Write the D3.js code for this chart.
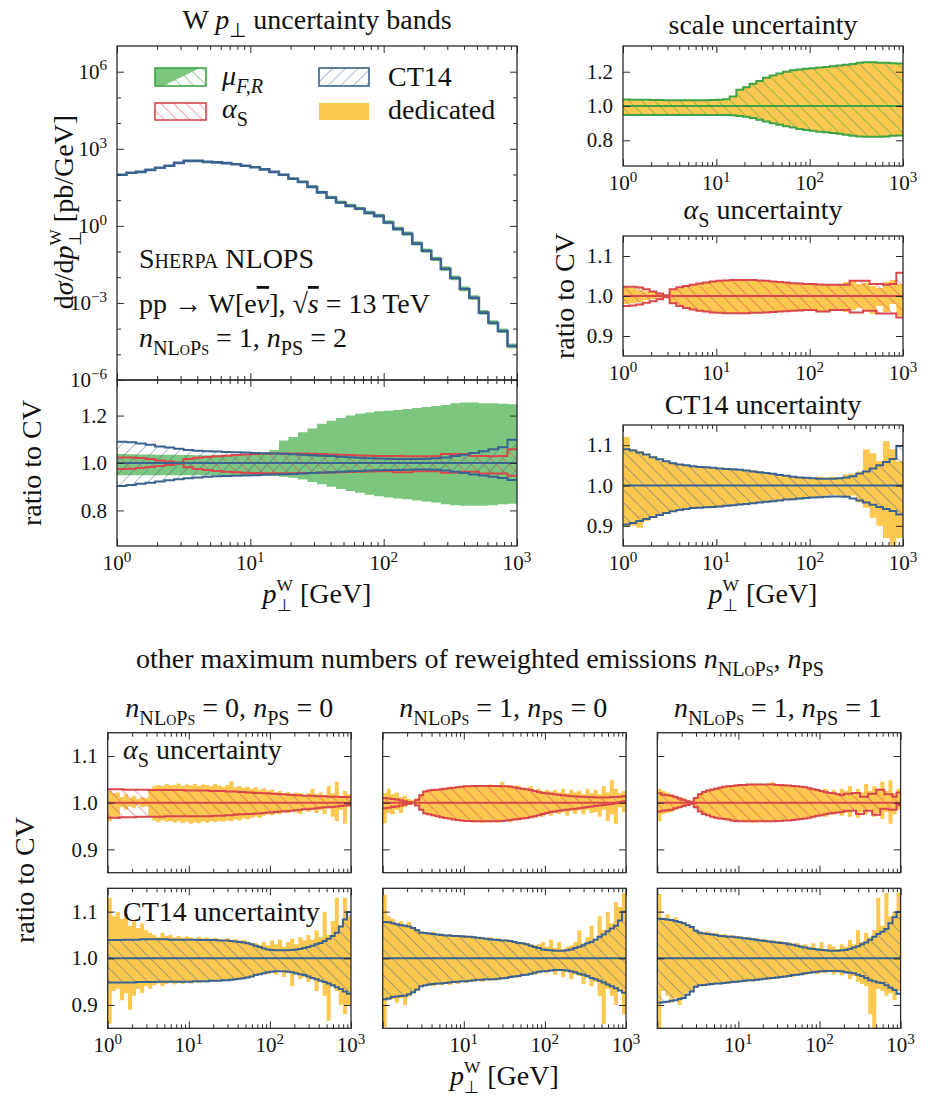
<!DOCTYPE html>
<html>
<head>
<meta charset="utf-8">
<script src="https://cdnjs.cloudflare.com/ajax/libs/d3/7.8.5/d3.min.js"></script>
<style>
html,body{margin:0;padding:0;background:#fff;}
svg text{fill:#111;white-space:pre;}
</style>
</head>
<body>
<script>
// ================= DATA =================
// x binning (log-uniform histogram bins in p_T^W [GeV])
const topBinEdges = d3.range(43).map(i => Math.pow(10, i / 14));
const lowBinEdges = d3.range(61).map(i => Math.pow(10, i / 20));

// central value dsigma/dpT [pb/GeV]
const cvXsec = [98,117,126,151,182,219,282,339,339,309,
  295,275,251,219,191,158,126,98,68,51,
  33,20,12.6,8.1,6.0,4.6,3.2,2.45,1.35,0.76,
  0.49,0.204,0.107,0.051,0.0214,0.0093,0.0035,0.0016,4.2e-4,1.7e-4,
  8.1e-5,2.1e-5];

// ratio-to-CV bands, n_NLoPs=1, n_PS=2
const scaleUp = [1.038,1.037,1.036,1.036,1.035,1.035,1.034,1.034,1.033,1.033,
  1.033,1.034,1.034,1.035,1.037,1.040,1.055,1.095,1.110,1.130,
  1.146,1.165,1.178,1.190,1.200,1.208,1.213,1.218,1.220,1.224,
  1.228,1.232,1.236,1.240,1.245,1.252,1.255,1.255,1.252,1.252,
  1.250,1.248];
const scaleDown = [0.948,0.948,0.948,0.948,0.948,0.948,0.948,0.948,0.948,0.948,
  0.948,0.948,0.948,0.948,0.948,0.947,0.946,0.942,0.938,0.930,
  0.920,0.910,0.900,0.890,0.882,0.875,0.866,0.860,0.855,0.850,
  0.847,0.842,0.838,0.833,0.826,0.822,0.820,0.820,0.820,0.822,
  0.826,0.828];
const alphaUp = [1.023,1.023,1.021,1.017,1.011,1.006,1.002,1.017,1.022,1.025,
  1.028,1.031,1.034,1.036,1.038,1.039,1.040,1.040,1.040,1.040,
  1.039,1.038,1.036,1.035,1.034,1.032,1.031,1.030,1.030,1.029,
  1.028,1.028,1.028,1.028,1.038,1.038,1.038,1.030,1.030,1.028,
  1.030,1.058];
const alphaDown = [0.975,0.976,0.979,0.983,0.987,0.992,0.997,0.982,0.975,0.970,
  0.966,0.963,0.961,0.959,0.958,0.957,0.957,0.957,0.957,0.958,
  0.958,0.959,0.960,0.961,0.962,0.963,0.964,0.965,0.965,0.961,
  0.961,0.965,0.965,0.965,0.959,0.959,0.963,0.963,0.956,0.956,
  0.956,0.946];
const ct14Up = [1.090,1.087,1.082,1.077,1.070,1.065,1.060,1.055,1.052,1.050,
  1.048,1.046,1.045,1.044,1.042,1.041,1.040,1.039,1.037,1.035,
  1.033,1.031,1.029,1.026,1.024,1.022,1.020,1.019,1.018,1.017,
  1.017,1.017,1.018,1.020,1.023,1.030,1.035,1.042,1.050,1.058,
  1.066,1.098];
const ct14Down = [0.903,0.907,0.912,0.917,0.922,0.927,0.932,0.936,0.939,0.942,
  0.944,0.945,0.946,0.947,0.948,0.950,0.951,0.953,0.954,0.956,
  0.958,0.960,0.961,0.963,0.965,0.966,0.968,0.969,0.970,0.971,
  0.972,0.973,0.973,0.972,0.968,0.963,0.958,0.952,0.947,0.942,
  0.937,0.928];
// dedicated (yellow) variations
const scaleDedUp = scaleUp.slice();
const scaleDedDown = scaleDown.slice();
const alphaDedUp = [1.022,1.020,1.015,1.012,1.010,1.006,1.004,1.017,1.022,1.025,
  1.028,1.031,1.034,1.036,1.038,1.039,1.040,1.040,1.040,1.040,
  1.039,1.038,1.036,1.035,1.034,1.032,1.031,1.030,1.030,1.029,
  1.028,1.028,1.028,1.035,1.040,1.030,1.033,1.025,1.020,1.035,
  1.040,1.030];
const alphaDedDown = [0.980,0.982,0.985,0.990,0.992,0.995,0.997,0.982,0.975,0.970,
  0.966,0.963,0.961,0.959,0.958,0.957,0.957,0.957,0.957,0.958,
  0.958,0.959,0.960,0.961,0.962,0.963,0.964,0.965,0.965,0.963,
  0.963,0.965,0.965,0.960,0.965,0.970,0.965,0.955,0.975,0.960,
  0.980,0.950];
const ct14DedUp = [1.120,1.090,1.085,1.075,1.072,1.062,1.060,1.055,1.050,1.050,
  1.046,1.046,1.045,1.043,1.042,1.040,1.040,1.040,1.038,1.038,
  1.035,1.033,1.030,1.026,1.025,1.022,1.020,1.020,1.020,1.022,
  1.020,1.022,1.020,1.028,1.030,1.035,1.090,1.080,1.060,1.110,
  1.090,1.060];
const ct14DedDown = [0.900,0.900,0.895,0.912,0.920,0.925,0.930,0.935,0.940,0.942,
  0.944,0.946,0.946,0.947,0.949,0.950,0.952,0.953,0.955,0.957,
  0.958,0.960,0.962,0.963,0.964,0.966,0.966,0.968,0.970,0.972,
  0.975,0.977,0.975,0.972,0.975,0.958,0.945,0.920,0.900,0.870,
  0.850,0.870];

// ---- other n_NLoPs, n_PS ----
// n_NLoPs=0, n_PS=0
const as00Up = [1.029,1.029,1.029,1.029,1.028,1.028,1.028,1.028,1.028,1.028,
  1.027,1.027,1.027,1.027,1.027,1.027,1.027,1.027,1.027,1.026,
  1.026,1.026,1.026,1.026,1.026,1.025,1.025,1.025,1.025,1.024,
  1.024,1.024,1.023,1.023,1.022,1.022,1.021,1.021,1.020,1.020,
  1.019,1.019,1.018,1.018,1.017,1.017,1.016,1.016,1.015,1.015,
  1.015,1.014,1.014,1.014,1.013,1.013,1.013,1.012,1.012,1.012];
const as00Down = [0.968,0.968,0.968,0.969,0.969,0.969,0.969,0.970,0.970,0.970,
  0.970,0.970,0.970,0.970,0.971,0.971,0.971,0.971,0.971,0.971,
  0.971,0.971,0.971,0.971,0.971,0.971,0.972,0.972,0.972,0.973,
  0.973,0.974,0.975,0.975,0.976,0.976,0.977,0.977,0.978,0.979,
  0.979,0.980,0.981,0.981,0.982,0.983,0.984,0.985,0.986,0.986,
  0.987,0.988,0.989,0.990,0.990,0.991,0.992,0.993,0.994,0.995];
const as00DedUp = [1.025,1.020,1.022,1.012,1.018,1.010,1.015,1.008,1.012,1.010,
  1.030,1.035,1.038,1.036,1.040,1.037,1.038,1.041,1.036,1.039,
  1.037,1.040,1.036,1.039,1.038,1.035,1.040,1.037,1.034,1.038,
  1.046,1.033,1.036,1.032,1.034,1.030,1.033,1.028,1.031,1.026,
  1.028,1.022,1.025,1.020,1.023,1.018,1.022,1.020,1.016,1.021,
  1.030,1.018,1.022,1.016,1.035,1.020,1.045,1.015,1.025,1.018];
const as00DedDown = [0.960,0.970,0.965,0.990,0.985,0.992,0.988,0.995,0.990,0.992,
  0.970,0.962,0.958,0.962,0.959,0.961,0.957,0.960,0.956,0.959,
  0.955,0.958,0.956,0.960,0.957,0.960,0.958,0.961,0.959,0.962,
  0.960,0.964,0.962,0.966,0.964,0.967,0.970,0.968,0.972,0.975,
  0.973,0.977,0.975,0.980,0.978,0.982,0.979,0.975,0.984,0.980,
  0.986,0.978,0.984,0.975,0.988,0.970,0.960,0.985,0.955,0.990];
const ct00Up = [1.039,1.039,1.039,1.039,1.040,1.040,1.040,1.040,1.041,1.041,
  1.041,1.041,1.041,1.041,1.041,1.040,1.040,1.040,1.040,1.040,
  1.040,1.040,1.039,1.039,1.039,1.039,1.039,1.038,1.038,1.038,
  1.037,1.036,1.035,1.034,1.032,1.030,1.027,1.024,1.021,1.019,
  1.018,1.017,1.017,1.017,1.017,1.018,1.019,1.020,1.022,1.024,
  1.027,1.030,1.033,1.037,1.042,1.048,1.055,1.068,1.083,1.099];
const ct00Down = [0.948,0.948,0.948,0.948,0.948,0.948,0.948,0.949,0.949,0.949,
  0.949,0.949,0.950,0.950,0.950,0.950,0.950,0.950,0.950,0.950,
  0.950,0.951,0.951,0.951,0.951,0.952,0.952,0.952,0.953,0.953,
  0.954,0.955,0.956,0.957,0.959,0.961,0.964,0.966,0.968,0.970,
  0.971,0.972,0.972,0.972,0.971,0.970,0.968,0.966,0.964,0.961,
  0.958,0.955,0.952,0.949,0.946,0.942,0.938,0.934,0.929,0.924];
const ct00DedUp = [1.130,1.090,1.100,1.085,1.095,1.070,1.080,1.065,1.075,1.060,
  1.055,1.050,1.045,1.055,1.048,1.050,1.045,1.048,1.044,1.047,
  1.045,1.042,1.046,1.043,1.045,1.041,1.044,1.042,1.040,1.043,
  1.039,1.041,1.038,1.040,1.036,1.033,1.032,1.029,1.035,1.028,
  1.038,1.030,1.040,1.025,1.035,1.042,1.030,1.045,1.038,1.050,
  1.040,1.060,1.045,1.100,1.050,1.080,1.130,1.070,1.130,1.090];
const ct00DedDown = [0.860,0.930,0.935,0.910,0.925,0.890,0.920,0.935,0.925,0.940,
  0.935,0.942,0.946,0.940,0.945,0.948,0.944,0.947,0.945,0.949,
  0.946,0.950,0.947,0.950,0.948,0.952,0.949,0.953,0.951,0.954,
  0.952,0.955,0.957,0.956,0.960,0.962,0.965,0.964,0.968,0.966,
  0.970,0.965,0.975,0.960,0.970,0.940,0.965,0.955,0.960,0.950,
  0.955,0.930,0.950,0.920,0.866,0.940,0.930,0.900,0.880,0.900];
// n_NLoPs=1, n_PS=0
const as10Up = [1.010,1.009,1.008,1.007,1.005,1.003,1.001,1.000,1.006,1.016,
  1.024,1.026,1.027,1.028,1.029,1.030,1.031,1.032,1.033,1.034,
  1.035,1.035,1.036,1.036,1.036,1.036,1.036,1.036,1.036,1.035,
  1.035,1.034,1.033,1.031,1.030,1.029,1.027,1.025,1.023,1.021,
  1.020,1.019,1.018,1.017,1.016,1.015,1.014,1.014,1.013,1.013,
  1.012,1.012,1.011,1.011,1.011,1.011,1.012,1.012,1.013,1.014];
const as10Down = [0.988,0.989,0.991,0.992,0.994,0.996,0.998,1.000,0.994,0.985,
  0.977,0.975,0.973,0.971,0.969,0.967,0.966,0.964,0.963,0.962,
  0.961,0.961,0.960,0.960,0.960,0.960,0.960,0.960,0.961,0.961,
  0.962,0.963,0.964,0.965,0.966,0.967,0.969,0.971,0.973,0.976,
  0.978,0.980,0.981,0.983,0.984,0.985,0.986,0.987,0.988,0.989,
  0.991,0.992,0.993,0.994,0.995,0.996,0.997,0.999,1.001,1.003];
const as10DedUp = [1.020,1.030,1.018,1.022,1.012,1.015,1.008,1.005,1.010,1.018,
  1.026,1.028,1.030,1.029,1.032,1.031,1.034,1.033,1.035,1.036,
  1.037,1.036,1.038,1.037,1.038,1.036,1.039,1.037,1.038,1.045,
  1.037,1.038,1.035,1.037,1.032,1.031,1.035,1.028,1.030,1.025,
  1.028,1.024,1.027,1.022,1.030,1.020,1.028,1.022,1.025,1.018,
  1.030,1.020,1.028,1.018,1.035,1.022,1.048,1.030,1.020,1.025];
const as10DedDown = [0.956,0.978,0.975,0.985,0.978,0.990,0.995,0.996,0.993,0.984,
  0.976,0.973,0.971,0.970,0.968,0.966,0.965,0.963,0.962,0.960,
  0.959,0.960,0.958,0.959,0.957,0.958,0.958,0.960,0.957,0.960,
  0.962,0.958,0.963,0.962,0.965,0.966,0.968,0.967,0.972,0.970,
  0.975,0.972,0.978,0.976,0.980,0.972,0.982,0.976,0.984,0.975,
  0.985,0.978,0.980,0.970,0.985,0.960,0.975,0.955,0.990,0.980];
const ct10Up = [1.078,1.077,1.075,1.073,1.071,1.070,1.068,1.065,1.060,1.055,
  1.054,1.053,1.052,1.051,1.050,1.049,1.049,1.048,1.048,1.047,
  1.046,1.046,1.045,1.044,1.043,1.042,1.041,1.040,1.039,1.038,
  1.038,1.037,1.035,1.033,1.032,1.030,1.027,1.024,1.022,1.019,
  1.018,1.017,1.016,1.016,1.016,1.017,1.019,1.022,1.025,1.028,
  1.032,1.035,1.040,1.046,1.051,1.058,1.064,1.070,1.081,1.100];
const ct10Down = [0.912,0.914,0.917,0.918,0.919,0.920,0.923,0.927,0.933,0.940,
  0.942,0.944,0.945,0.946,0.946,0.947,0.948,0.949,0.950,0.951,
  0.951,0.952,0.953,0.954,0.954,0.955,0.955,0.955,0.956,0.957,
  0.958,0.960,0.961,0.962,0.964,0.965,0.967,0.969,0.971,0.972,
  0.973,0.974,0.975,0.975,0.975,0.974,0.972,0.970,0.967,0.965,
  0.962,0.958,0.955,0.952,0.948,0.944,0.940,0.936,0.931,0.926];
const ct10DedUp = [1.136,1.090,1.085,1.075,1.080,1.072,1.078,1.066,1.062,1.058,
  1.056,1.054,1.057,1.052,1.053,1.050,1.052,1.049,1.050,1.048,
  1.049,1.046,1.048,1.045,1.046,1.043,1.045,1.042,1.043,1.040,
  1.041,1.038,1.037,1.035,1.034,1.032,1.030,1.028,1.030,1.035,
  1.025,1.040,1.022,1.035,1.020,1.025,1.028,1.035,1.060,1.032,
  1.045,1.070,1.042,1.090,1.060,1.100,1.075,1.120,1.110,1.140];
const ct10DedDown = [0.852,0.910,0.912,0.905,0.915,0.900,0.918,0.925,0.930,0.938,
  0.940,0.942,0.940,0.944,0.942,0.945,0.943,0.947,0.945,0.949,
  0.947,0.950,0.949,0.952,0.950,0.953,0.952,0.954,0.953,0.955,
  0.956,0.958,0.960,0.959,0.962,0.964,0.966,0.965,0.968,0.970,
  0.968,0.972,0.965,0.973,0.960,0.970,0.955,0.965,0.962,0.945,
  0.958,0.940,0.950,0.920,0.859,0.935,0.920,0.900,0.930,0.880];
// n_NLoPs=1, n_PS=1
const as11Up = [1.020,1.017,1.016,1.015,1.012,1.009,1.006,1.003,1.001,1.010,
  1.018,1.023,1.026,1.028,1.030,1.032,1.034,1.035,1.036,1.037,
  1.038,1.038,1.039,1.039,1.039,1.039,1.039,1.039,1.039,1.038,
  1.038,1.037,1.037,1.036,1.035,1.034,1.033,1.031,1.029,1.027,
  1.025,1.023,1.021,1.020,1.018,1.016,1.019,1.019,1.021,1.021,
  1.013,1.013,1.019,1.019,1.028,1.028,1.018,1.018,1.013,1.022];
const as11Down = [0.981,0.983,0.984,0.985,0.988,0.990,0.993,0.995,0.998,0.990,
  0.981,0.976,0.973,0.970,0.968,0.966,0.965,0.964,0.962,0.961,
  0.960,0.960,0.960,0.960,0.960,0.960,0.960,0.960,0.960,0.961,
  0.961,0.962,0.962,0.963,0.964,0.965,0.966,0.968,0.970,0.972,
  0.973,0.975,0.977,0.978,0.979,0.980,0.983,0.983,0.983,0.976,
  0.976,0.983,0.983,0.974,0.974,0.987,0.987,0.985,0.985,0.995];
const as11DedUp = [1.030,1.025,1.022,1.018,1.015,1.012,1.010,1.006,1.004,1.012,
  1.020,1.025,1.028,1.030,1.032,1.034,1.035,1.037,1.038,1.039,
  1.040,1.039,1.040,1.041,1.040,1.041,1.040,1.042,1.044,1.040,
  1.039,1.040,1.038,1.037,1.036,1.035,1.036,1.033,1.030,1.028,
  1.025,1.030,1.022,1.028,1.020,1.030,1.025,1.035,1.020,1.030,
  1.022,1.040,1.025,1.035,1.030,1.045,1.025,1.048,1.020,1.030];
const as11DedDown = [0.960,0.975,0.978,0.980,0.985,0.988,0.990,0.994,0.996,0.988,
  0.980,0.975,0.972,0.970,0.967,0.965,0.963,0.962,0.961,0.960,
  0.959,0.958,0.958,0.957,0.958,0.959,0.958,0.959,0.960,0.961,
  0.962,0.961,0.963,0.964,0.965,0.966,0.968,0.970,0.968,0.972,
  0.975,0.970,0.978,0.974,0.980,0.972,0.978,0.970,0.982,0.968,
  0.980,0.975,0.985,0.970,0.978,0.965,0.980,0.955,0.975,0.985];
const ct11Up = [1.085,1.084,1.083,1.082,1.080,1.078,1.075,1.071,1.067,1.059,
  1.055,1.053,1.052,1.051,1.050,1.048,1.047,1.046,1.046,1.045,
  1.044,1.043,1.042,1.041,1.039,1.038,1.037,1.036,1.035,1.034,
  1.033,1.032,1.030,1.029,1.027,1.025,1.023,1.021,1.020,1.019,
  1.018,1.017,1.016,1.016,1.016,1.017,1.018,1.020,1.023,1.026,
  1.030,1.034,1.040,1.046,1.052,1.057,1.063,1.075,1.088,1.099];
const ct11Down = [0.905,0.906,0.907,0.909,0.910,0.913,0.915,0.922,0.929,0.939,
  0.942,0.943,0.944,0.945,0.946,0.946,0.947,0.948,0.949,0.950,
  0.951,0.952,0.953,0.953,0.954,0.955,0.956,0.957,0.958,0.959,
  0.960,0.961,0.962,0.964,0.965,0.966,0.968,0.969,0.970,0.971,
  0.972,0.973,0.973,0.973,0.973,0.972,0.970,0.969,0.968,0.965,
  0.962,0.958,0.953,0.951,0.948,0.947,0.942,0.937,0.932,0.924];
const ct11DedUp = [1.138,1.085,1.095,1.084,1.088,1.078,1.077,1.072,1.068,1.062,
  1.058,1.056,1.058,1.054,1.055,1.051,1.052,1.049,1.050,1.047,
  1.048,1.045,1.046,1.043,1.044,1.041,1.042,1.038,1.040,1.036,
  1.037,1.034,1.035,1.031,1.033,1.028,1.030,1.025,1.032,1.022,
  1.035,1.020,1.030,1.025,1.020,1.030,1.025,1.040,1.030,1.060,
  1.035,1.055,1.045,1.060,1.130,1.070,1.140,1.090,1.100,1.140];
const ct11DedDown = [0.850,0.930,0.920,0.905,0.915,0.900,0.918,0.925,0.930,0.940,
  0.942,0.940,0.944,0.942,0.945,0.944,0.946,0.945,0.948,0.947,
  0.950,0.949,0.951,0.950,0.953,0.952,0.955,0.954,0.957,0.956,
  0.959,0.958,0.961,0.960,0.963,0.965,0.964,0.967,0.969,0.966,
  0.970,0.968,0.972,0.965,0.970,0.963,0.968,0.955,0.962,0.950,
  0.945,0.940,0.880,0.850,0.935,0.930,0.920,0.925,0.910,0.930];

// tick values / labels
const xMajorTicks = [1, 10, 100, 1000];
const xMinorTicks = [2,3,4,5,6,7,8,9,20,30,40,50,60,70,80,90,200,300,400,500,600,700,800,900];
const xTickExps = ['0', '1', '2', '3'];
const mainYTicks = [1e-6, 1e-3, 1, 1e3, 1e6];
const mainYTickExps = ['\u22126', '\u22123', '0', '3', '6'];
const mainYMinor = [1e-5, 1e-4, 1e-2, 1e-1, 10, 100, 1e4, 1e5];
const wideRatioTicks = [0.8, 1.0, 1.2];
const narrowRatioTicks = [0.9, 1.0, 1.1];

// ================= DRAWING =================
function fontAvailable(name) {
  const c = document.createElement('canvas').getContext('2d');
  const s = 'abcdefghijklmnopqrstuvwxyzABCDEFGHIJ0123456789';
  c.font = '40px monospace'; const w0 = c.measureText(s).width;
  c.font = `40px "${name}", monospace`; const w1 = c.measureText(s).width;
  return Math.abs(w0 - w1) > 0.5;
}
let FONT = 'serif', FS = 27, TS = 21;
if (fontAvailable('Liberation Serif')) { FONT = '"Liberation Serif", serif'; FS = 28; TS = 21; }
else if (fontAvailable('DejaVu Serif')) { FONT = '"DejaVu Serif", serif'; FS = 21; TS = 17; }

const COL = {green:'#3ea346', greenFill:'#7cc67f', red:'#d9464b', blue:'#3a6391', yellow:'#fdc850', frame:'#2a2a2a'};

const svg = d3.select('body').append('svg').attr('width', 930).attr('height', 1098).attr('font-family', FONT);
svg.append('style').text(`text{font-family:${FONT};}`);
const defs = svg.append('defs');

function hatch(id, color, angle, op) {
  const p = defs.append('pattern').attr('id', id).attr('patternUnits', 'userSpaceOnUse')
    .attr('width', 9).attr('height', 9).attr('patternTransform', `rotate(${angle})`);
  p.append('line').attr('x1', 4.5).attr('y1', -1).attr('x2', 4.5).attr('y2', 10)
    .attr('stroke', color).attr('stroke-width', 0.9).attr('stroke-opacity', op);
}
hatch('hGreen', COL.green, -45, 0.6);
hatch('hRed', COL.red, -45, 0.55);
hatch('hBlue', COL.blue, -45, 0.5);
hatch('hBlueF', COL.blue, 45, 0.5);

let clipCount = 0;
function panel(x0, x1, y0, y1, yDomain, yLog) {
  const x = d3.scaleLog().domain([1, 1000]).range([x0, x1]);
  const y = (yLog ? d3.scaleLog() : d3.scaleLinear()).domain(yDomain).range([y1, y0]);
  const id = 'clip' + (clipCount++);
  defs.append('clipPath').attr('id', id).append('rect')
    .attr('x', x0).attr('y', y0).attr('width', x1 - x0).attr('height', y1 - y0);
  const g = svg.append('g');
  const plot = g.append('g').attr('clip-path', `url(#${id})`);
  return {x, y, g, plot, x0, x1, y0, y1};
}
function stepData(edges, a, b) {
  const n = a.length;
  const pts = a.map((v, i) => [edges[i], v, b ? b[i] : v]);
  pts.push([edges[n], a[n - 1], b ? b[n - 1] : a[n - 1]]);
  return pts;
}
function bandArea(P, edges, up, down, fill) {
  const area = d3.area().x(d => P.x(d[0])).y0(d => P.y(d[1])).y1(d => P.y(d[2])).curve(d3.curveStepAfter);
  P.plot.append('path').attr('d', area(stepData(edges, up, down))).attr('fill', fill);
}
function stepLine(P, edges, vals, color, w) {
  const line = d3.line().x(d => P.x(d[0])).y(d => P.y(d[1])).curve(d3.curveStepAfter);
  P.plot.append('path').attr('d', line(stepData(edges, vals))).attr('fill', 'none')
    .attr('stroke', color).attr('stroke-width', w);
}
function centerLine(P, color, w) {
  P.plot.append('line').attr('x1', P.x(1)).attr('x2', P.x(1000)).attr('y1', P.y(1)).attr('y2', P.y(1))
    .attr('stroke', color).attr('stroke-width', w);
}
function axes(P, yMajor, yMinor) {
  const add = (axis, tr, s) => {
    const a = P.g.append('g').attr('transform', tr).call(axis.tickSize(-s).tickFormat(() => ''));
    a.select('.domain').remove();
    a.selectAll('text').remove();
    a.selectAll('line').attr('stroke', COL.frame).attr('stroke-width', 1);
  };
  [[xMajorTicks, 7], [xMinorTicks, 4]].forEach(([v, s]) => {
    add(d3.axisBottom(P.x).tickValues(v), `translate(0,${P.y1})`, s);
    add(d3.axisTop(P.x).tickValues(v), `translate(0,${P.y0})`, s);
  });
  [[yMajor, 7], [yMinor || [], 4]].forEach(([v, s]) => {
    if (!v.length) return;
    add(d3.axisLeft(P.y).tickValues(v), `translate(${P.x0},0)`, s);
    add(d3.axisRight(P.y).tickValues(v), `translate(${P.x1},0)`, s);
  });
  P.g.append('rect').attr('x', P.x0).attr('y', P.y0).attr('width', P.x1 - P.x0).attr('height', P.y1 - P.y0)
    .attr('fill', 'none').attr('stroke', COL.frame).attr('stroke-width', 1.3);
}
// rich text: parts are strings or [text, {i, sub, sup, sc, over, back, small}]
function rich(parent, x, y, size, parts, anchor) {
  const t = parent.append('text').attr('x', x).attr('y', y).attr('font-size', size)
    .attr('text-anchor', anchor || 'start');
  let shift = 0, prev = null;
  parts.forEach(p => {
    const txt = typeof p === 'string' ? p : p[0];
    const o = typeof p === 'string' ? {} : (p[1] || {});
    const s = t.append('tspan').text(txt);
    const target = o.sub ? size * (o.small ? 0.28 : 0.3) : o.sup ? -size * (o.small ? 0.42 : 0.4) : 0;
    if (target !== shift) s.attr('dy', target - shift);
    shift = target;
    if (o.sub || o.sup) s.attr('font-size', size * (o.small ? 0.62 : 0.72));
    if (o.i) s.attr('font-style', 'italic');
    if (o.sc) s.attr('font-variant', 'small-caps');
    if (o.over) s.attr('text-decoration', 'overline');
    if (o.back && prev) s.attr('dx', -prev.node().getComputedTextLength());
    prev = s;
  });
  return t;
}
function xLabels(P, from) {
  xMajorTicks.forEach((v, i) => {
    if (i < from) return;
    rich(svg, P.x(v), P.y1 + 24, TS, ['10', [xTickExps[i], {sup: true}]], 'middle');
  });
}
function yLabels(P, vals) {
  vals.forEach(v => {
    svg.append('text').attr('x', P.x0 - 10).attr('y', P.y(v) + TS * 0.34).attr('font-size', TS)
      .attr('text-anchor', 'end').text(d3.format('.1f')(v));
  });
}
const pTparts = [['p', {i: true}], ['\u22a5', {sub: true, small: true}], ['W', {sup: true, small: true, back: true}], ' [GeV]'];
function rotLabel(x, y, parts) {
  const g = svg.append('g').attr('transform', `translate(${x},${y}) rotate(-90)`);
  rich(g, 0, 0, FS, parts, 'middle');
}

// ---------- top-left: spectrum ----------
const PM = panel(117, 517, 46, 380, [1e-6, 1e7], true);
const cvUp = cvXsec.map((v, i) => v * scaleUp[i]);
const cvDown = cvXsec.map((v, i) => v * scaleDown[i]);
bandArea(PM, topBinEdges, cvUp, cvDown, COL.greenFill);
stepLine(PM, topBinEdges, cvXsec, COL.blue, 2.6);
axes(PM, mainYTicks, mainYMinor);
mainYTicks.forEach((v, i) => {
  rich(svg, 107, PM.y(v) + TS * 0.34, TS, ['10', [mainYTickExps[i], {sup: true}]], 'end');
});

// legend
const lg = svg.append('g');
lg.append('rect').attr('x', 155).attr('y', 68).attr('width', 51).attr('height', 18).attr('fill', 'url(#hGreen)');
lg.append('polygon').attr('points', '155,68 200,68 163,86 155,86').attr('fill', COL.greenFill);
lg.append('rect').attr('x', 155).attr('y', 68).attr('width', 51).attr('height', 18).attr('fill', 'none').attr('stroke', COL.green).attr('stroke-width', 1.6);
lg.append('rect').attr('x', 155).attr('y', 103).attr('width', 51).attr('height', 17).attr('fill', 'url(#hRed)').attr('stroke', COL.red).attr('stroke-width', 1.6);
lg.append('rect').attr('x', 319).attr('y', 68).attr('width', 50).attr('height', 18).attr('fill', 'url(#hBlueF)').attr('stroke', COL.blue).attr('stroke-width', 1.6);
lg.append('rect').attr('x', 319).attr('y', 103).attr('width', 50).attr('height', 17).attr('fill', COL.yellow);
rich(svg, 222, 85, FS, [['\u03bc', {i: true}], ['F,R', {sub: true, i: true}]]);
rich(svg, 222, 118, FS, [['\u03b1', {i: true}], ['S', {sub: true}]]);
rich(svg, 388, 86, FS, ['CT14']);
rich(svg, 388, 119, FS, ['dedicated']);

// annotations
rich(svg, 139, 268, FS, [['Sherpa', {sc: true}], ' NLOPS']);
rich(svg, 139, 313, FS, ['pp \u2192 W[e', ['\u03bd', {i: true, over: true}], '], \u221a', ['s', {i: true, over: true}], ' = 13\u2009TeV']);
rich(svg, 139, 347, FS, [['n', {i: true}], ['NLoPs', {sub: true, sc: true}], ' = 1, ', ['n', {i: true}], ['PS', {sub: true}], ' = 2']);

rich(svg, 317, 29, FS, ['W ', ['p', {i: true}], ['\u22a5', {sub: true}], ' uncertainty bands'], 'middle');
rotLabel(73, 212, ['d', ['\u03c3', {i: true}], '/d', ['p', {i: true}], ['\u22a5', {sub: true, small: true}], ['W', {sup: true, small: true, back: true}], ' [pb/GeV]']);

// ---------- top-left: ratio ----------
const PR = panel(117, 517, 380, 546, [0.65, 1.35], false);
bandArea(PR, topBinEdges, scaleUp, scaleDown, COL.greenFill);
bandArea(PR, topBinEdges, ct14Up, ct14Down, 'url(#hBlueF)');
bandArea(PR, topBinEdges, alphaUp, alphaDown, 'url(#hRed)');
stepLine(PR, topBinEdges, alphaUp, COL.red, 2);
stepLine(PR, topBinEdges, alphaDown, COL.red, 2);
stepLine(PR, topBinEdges, ct14Up, COL.blue, 2);
stepLine(PR, topBinEdges, ct14Down, COL.blue, 2);
centerLine(PR, COL.blue, 2);
axes(PR, wideRatioTicks, []);
yLabels(PR, wideRatioTicks);
xLabels(PR, 0);
rich(svg, 317, 603, FS, pTparts, 'middle');
rotLabel(41, 463, ['ratio to CV']);

// ---------- top-right panels ----------
function bandPanel(P, edges, dedUp, dedDown, up, down, color, hatchId) {
  bandArea(P, edges, dedUp, dedDown, COL.yellow);
  bandArea(P, edges, up, down, `url(#${hatchId})`);
  stepLine(P, edges, up, color, 2);
  stepLine(P, edges, down, color, 2);
  centerLine(P, color, 2);
}
const PS = panel(623, 903, 46, 166, [0.65, 1.35], false);
bandPanel(PS, topBinEdges, scaleDedUp, scaleDedDown, scaleUp, scaleDown, COL.green, 'hGreen');
axes(PS, wideRatioTicks, []);
yLabels(PS, wideRatioTicks);
xLabels(PS, 0);
rich(svg, 763, 34, FS, ['scale uncertainty'], 'middle');

const PA = panel(623, 903, 236, 356, [0.85, 1.15], false);
bandPanel(PA, topBinEdges, alphaDedUp, alphaDedDown, alphaUp, alphaDown, COL.red, 'hRed');
axes(PA, narrowRatioTicks, []);
yLabels(PA, narrowRatioTicks);
xLabels(PA, 0);
rich(svg, 763, 219, FS, [['\u03b1', {i: true}], ['S', {sub: true}], ' uncertainty'], 'middle');

const PC = panel(623, 903, 425, 546, [0.85, 1.15], false);
bandPanel(PC, topBinEdges, ct14DedUp, ct14DedDown, ct14Up, ct14Down, COL.blue, 'hBlue');
axes(PC, narrowRatioTicks, []);
yLabels(PC, narrowRatioTicks);
xLabels(PC, 0);
rich(svg, 763, 414, FS, ['CT14 uncertainty'], 'middle');
rich(svg, 763, 603, FS, pTparts, 'middle');
rotLabel(574, 296, ['ratio to CV']);

// ---------- bottom row ----------
rich(svg, 480, 668, FS, ['other maximum numbers of reweighted emissions ', ['n', {i: true}], ['NLoPs', {sub: true, sc: true}], ', ', ['n', {i: true}], ['PS', {sub: true}]], 'middle');
const bottomCols = [
  {x0: 107.7, nN: '0', nP: '0', as: [as00DedUp, as00DedDown, as00Up, as00Down], ct: [ct00DedUp, ct00DedDown, ct00Up, ct00Down]},
  {x0: 382.7, nN: '1', nP: '0', as: [as10DedUp, as10DedDown, as10Up, as10Down], ct: [ct10DedUp, ct10DedDown, ct10Up, ct10Down]},
  {x0: 657.3, nN: '1', nP: '1', as: [as11DedUp, as11DedDown, as11Up, as11Down], ct: [ct11DedUp, ct11DedDown, ct11Up, ct11Down]}
];
bottomCols.forEach((c, k) => {
  const x1 = c.x0 + 243.3;
  const PA2 = panel(c.x0, x1, 732.7, 872.7, [0.85, 1.15], false);
  bandPanel(PA2, lowBinEdges, c.as[0], c.as[1], c.as[2], c.as[3], COL.red, 'hRed');
  axes(PA2, narrowRatioTicks, []);
  const PC2 = panel(c.x0, x1, 888.3, 1028.3, [0.85, 1.15], false);
  bandPanel(PC2, lowBinEdges, c.ct[0], c.ct[1], c.ct[2], c.ct[3], COL.blue, 'hBlue');
  axes(PC2, narrowRatioTicks, []);
  xLabels(PC2, k === 0 ? 0 : 1);
  if (k === 0) {
    yLabels(PA2, narrowRatioTicks);
    yLabels(PC2, narrowRatioTicks);
    rich(svg, 123, 759, FS, [['\u03b1', {i: true}], ['S', {sub: true}], ' uncertainty']);
    rich(svg, 123, 921, FS, ['CT14 uncertainty']);
  }
  if (k === 1) rich(svg, (c.x0 + x1) / 2, 1085, FS, pTparts, 'middle');
  rich(svg, (c.x0 + x1) / 2 + (k === 0 ? 0 : -1), 717, FS,
    [['n', {i: true}], ['NLoPs', {sub: true, sc: true}], ' = ' + c.nN + ', ', ['n', {i: true}], ['PS', {sub: true}], ' = ' + c.nP], 'middle');
});
rotLabel(34, 880, ['ratio to CV']);
</script>
</body>
</html>
